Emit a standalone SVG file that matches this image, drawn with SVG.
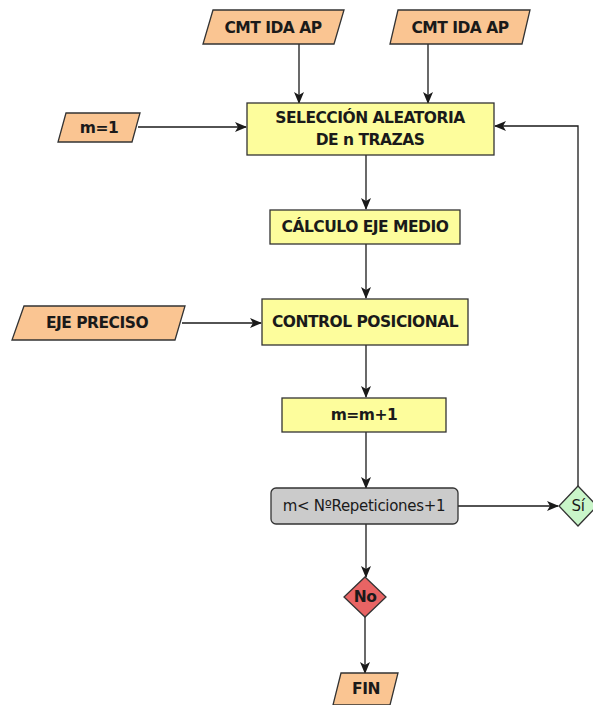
<svg xmlns="http://www.w3.org/2000/svg" width="593" height="705" viewBox="0 0 593 705">
  <defs>
    <marker id="arrow" viewBox="0 0 12 10" refX="11" refY="5" markerWidth="12" markerHeight="10" markerUnits="userSpaceOnUse" orient="auto">
      <path d="M0,0 L12,5 L0,10 L3,5 Z" fill="#1a1a1a"/>
    </marker>
  </defs>
  <style>
    .io { fill: #fac592; stroke: #333; stroke-width: 1.3; }
    .proc { fill: #fdfd9c; stroke: #333; stroke-width: 1.3; }
    .cond { fill: #cbcbcb; stroke: #333; stroke-width: 1.3; }
    .yes { fill: #c9f5c9; stroke: #333; stroke-width: 1.3; }
    .no { fill: #e86464; stroke: #333; stroke-width: 1.3; }
    .lbl { font-family: "DejaVu Sans", "Liberation Sans", sans-serif; font-weight: bold; font-size: 15.5px; letter-spacing: -0.5px; fill: #1a1a1a; text-anchor: middle; dominant-baseline: central; }
    .reg { font-weight: normal; font-size: 15px; letter-spacing: -0.3px; }
    .edge { fill: none; stroke: #1a1a1a; stroke-width: 1.3; marker-end: url(#arrow); }
  </style>
  <rect width="593" height="705" fill="#ffffff"/>

  <g id="connectors">
    <path class="edge" d="M299,44 V103"/>
    <path class="edge" d="M428,44 V103"/>
    <path class="edge" d="M138,127 H246"/>
    <path class="edge" d="M366,155 V209"/>
    <path class="edge" d="M366,244 V298"/>
    <path class="edge" d="M182,323 H261"/>
    <path class="edge" d="M366,345 V397"/>
    <path class="edge" d="M366,432 V488"/>
    <path class="edge" d="M458,506 H558"/>
    <path class="edge" d="M578,486 V126 H495"/>
    <path class="edge" d="M366,524 V577"/>
    <path class="edge" d="M365,617 V673"/>
  </g>

  <g id="cmt1">
    <polygon class="io" points="213,10 344,10 334,44 203,44"/>
    <text class="lbl" x="273" y="28">CMT IDA AP</text>
  </g>
  <g id="cmt2">
    <polygon class="io" points="398,10 530,10 522,44 390,44"/>
    <text class="lbl" x="460" y="28">CMT IDA AP</text>
  </g>
  <g id="m1">
    <polygon class="io" points="66,113 140,113 132,142 58,142"/>
    <text class="lbl" x="99" y="128">m=1</text>
  </g>
  <g id="seleccion">
    <rect class="proc" x="247" y="103" width="247" height="52"/>
    <text class="lbl" x="370" y="118">SELECCIÓN ALEATORIA</text>
    <text class="lbl" x="370" y="140">DE n TRAZAS</text>
  </g>
  <g id="calculo">
    <rect class="proc" x="270" y="210" width="190" height="34"/>
    <text class="lbl" x="365" y="227">CÁLCULO EJE MEDIO</text>
  </g>
  <g id="eje-preciso">
    <polygon class="io" points="24,306 185,306 175,340 12,340"/>
    <text class="lbl" x="97" y="323">EJE PRECISO</text>
  </g>
  <g id="control">
    <rect class="proc" x="262" y="299" width="206" height="46"/>
    <text class="lbl" x="365" y="322">CONTROL POSICIONAL</text>
  </g>
  <g id="incremento">
    <rect class="proc" x="282" y="398" width="164" height="34"/>
    <text class="lbl" x="364" y="415">m=m+1</text>
  </g>
  <g id="condicion">
    <rect class="cond" x="271" y="488" width="187" height="36" rx="5" ry="5"/>
    <text class="lbl reg" x="364" y="506">m&lt; NºRepeticiones+1</text>
  </g>
  <g id="si">
    <polygon class="yes" points="578,486 597,506 578,526 559,506"/>
    <text class="lbl reg" x="578" y="506">Sí</text>
  </g>
  <g id="no">
    <polygon class="no" points="365,577 386,597 365,617 344,597"/>
    <text class="lbl" x="365" y="597">No</text>
  </g>
  <g id="fin">
    <polygon class="io" points="341,673 398,673 390,705 333,705"/>
    <text class="lbl" x="366" y="689">FIN</text>
  </g>
</svg>
